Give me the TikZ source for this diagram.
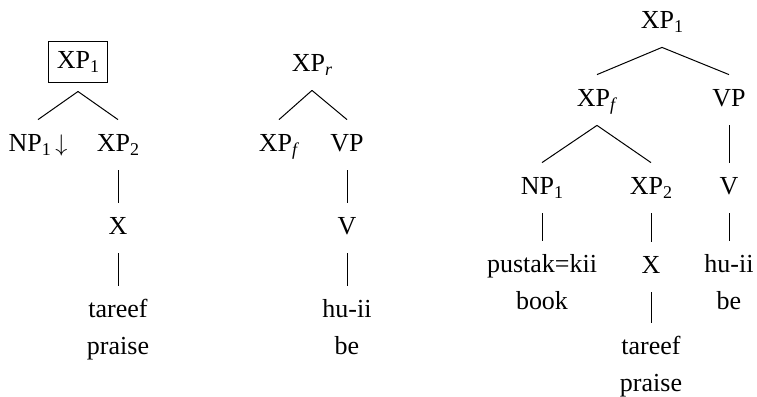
\documentclass[tikz,border=0pt]{standalone}
\usepackage{fontspec}
\setmainfont{Liberation Serif}
\usetikzlibrary{positioning}
\newcommand{\lsub}[1]{\raisebox{-2.3pt}{\fontsize{9}{10}\selectfont#1}}
\begin{document}
\begin{tikzpicture}[x=0.5pt,y=-0.5pt,
    base/.style={inner xsep=2pt,inner ysep=6.5pt,align=center,font=\fontsize{13}{18.5}\selectfont},
    n/.style={base,text height=9pt,text depth=3pt},
    w/.style={base,anchor=north},
    b/.style={n,draw,line width=0.5pt,inner xsep=4pt,inner ysep=4.25pt,outer sep=4.5pt},
    e/.style={line width=0.5pt}]
    \useasboundingbox (0,0) rectangle (757,397);
    % tree 1
    \node[b] (r1) at (78,62) {XP\lsub{1}};
    \node[n] (np1) at (38,145) {NP\lsub{1}\,$\downarrow$};
    \node[n] (xp1) at (118,145) {XP\lsub{2}};
    \node[n] (x1) at (118,228) {X};
    \node[w] (w1) at (118,286) {tareef\\praise};
    % tree 2
    \node[n] (r2) at (312,65) {XP\lsub{\textit{r}}};
    \node[n] (xf2) at (279,145) {XP\lsub{\textit{f}}};
    \node[n] (vp2) at (347,145) {VP};
    \node[n] (v2) at (347,228) {V};
    \node[w] (w2) at (347,286) {hu-ii\\be};
    % tree 3
    \node[n] (r3) at (662,22) {XP\lsub{1}};
    \node[n] (xf3) at (597,100) {XP\lsub{\textit{f}}};
    \node[n] (vp3) at (729,100) {VP};
    \node[n] (np3) at (542,188) {NP\lsub{1}};
    \node[n] (xp3) at (651,188) {XP\lsub{2}};
    \node[n] (v3) at (729,188) {V};
    \node[w] (w3) at (542,241) {pustak=kii\\book};
    \node[n] (x3) at (651,267) {X};
    \node[w] (w4) at (651,323) {tareef\\praise};
    \node[w] (w5) at (729,241) {hu-ii\\be};
    \foreach \p/\c in {r1/np1,r1/xp1,xp1/x1,x1/w1,
        r2/xf2,r2/vp2,vp2/v2,v2/w2,
        r3/xf3,r3/vp3,xf3/np3,xf3/xp3,vp3/v3,np3/w3,xp3/x3,x3/w4,v3/w5}
      \draw[e] (\p.south)--(\c.north);
\end{tikzpicture}
\end{document}
